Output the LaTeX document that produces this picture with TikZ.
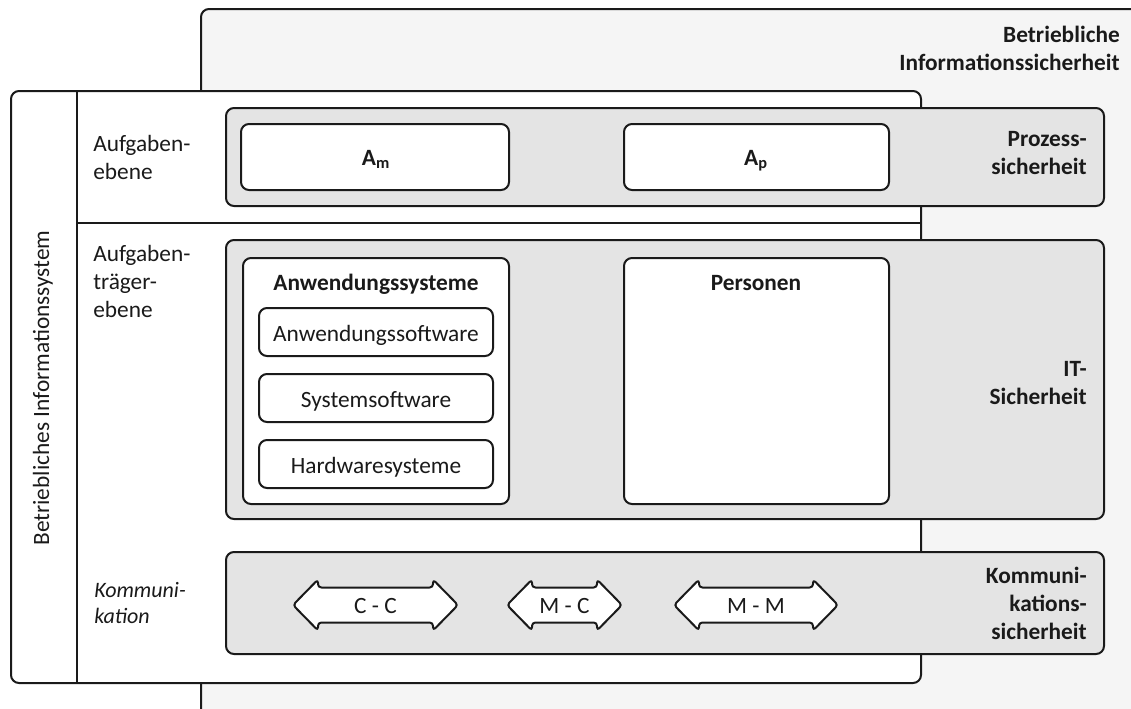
\documentclass[tikz,border=0pt]{standalone}
\usepackage{fontspec}
\setmainfont{Carlito}
\usetikzlibrary{fit}
\definecolor{linec}{HTML}{1A1A1A}
\definecolor{bgc}{HTML}{F5F5F5}
\definecolor{grayc}{HTML}{E4E4E4}
\newcommand\dblarr[4]{%
  \draw[arrowshape] ({#2-#3},605) -- ({#2-#3+25},579.5) -- ({#2-#3+25},587.5) -- ({#2+#3-25},587.5) -- ({#2+#3-25},579.5) -- ({#2+#3},605) -- ({#2+#3-25},630.5) -- ({#2+#3-25},622.5) -- ({#2-#3+25},622.5) -- ({#2-#3+25},630.5) -- cycle;
  \node[txt, anchor=base] (#1) at (#2,613) {#4};}
\begin{document}
\begin{tikzpicture}[x=0.75pt,y=-0.75pt,
  box/.style={draw=linec, line width=1.5pt, rounded corners=6pt, inner sep=0pt},
  bgbox/.style={box, fill=bgc},
  whitebox/.style={box, fill=white},
  graybox/.style={box, fill=grayc},
  divline/.style={draw=linec, line width=1.5pt},
  arrowshape/.style={draw=linec, line width=1.5pt, fill=white, rounded corners=2.5pt, line join=round},
  txt/.style={inner sep=0pt, font=\fontsize{17.5}{21}\selectfont, text=linec},
  btxt/.style={txt, font=\fontsize{17.5}{21}\selectfont\bfseries},
  itxt/.style={inner sep=0pt, font=\fontsize{16.5}{19.5}\selectfont\itshape, text=linec}
]
\useasboundingbox (0,0) rectangle (1131,708);
\clip (0,0) rectangle (1131,708);
\fill[white] (0,0) rectangle (1131,708);
% outer frame
\node[bgbox, fit={(201,9) (1170,750)}] (bis) {};
\node[btxt, align=right, anchor=north east] (bislbl) at (1120,26) {Betriebliche\\Informationssicherheit};
% information system
\node[whitebox, fit={(11,91) (921,683)}] (sys) {};
\coordinate (d1) at (77,91);
\coordinate (d2) at (77,683);
\coordinate (h1) at (77,223);
\coordinate (h2) at (921,223);
\draw[divline] (d1) -- (d2);
\draw[divline] (h1) -- (h2);
\node[txt, rotate=90] (syslbl) at (43,388) {Betriebliches Informationssystem};
\node[txt, align=left, anchor=north west] (l1) at (93,135) {Aufgaben-\\ebene};
\node[txt, align=left, anchor=north west] (l2) at (93,245) {Aufgaben-\\träger-\\ebene};
\node[itxt, align=left, anchor=north west] (l3) at (94,582) {Kommuni-\\kation};
% Prozesssicherheit
\node[graybox, fit={(226,108) (1104,206)}] (proz) {};
\node[whitebox, fit={(241,124) (509,190)}] (am) {};
\node[whitebox, fit={(624,124) (889,190)}] (ap) {};
\node[btxt, anchor=base] (amt) at (376,165) {A\textsubscript{m}};
\node[btxt, anchor=base] (apt) at (756,165) {A\textsubscript{p}};
\node[btxt, align=right, anchor=north east] (prozlbl) at (1087,131) {Prozess-\\sicherheit};
% IT-Sicherheit
\node[graybox, fit={(226,240) (1104,519)}] (it) {};
\node[whitebox, fit={(243,258) (509,504)}] (anw) {};
\node[whitebox, fit={(624,258) (889,504)}] (pers) {};
\node[btxt, anchor=base] (anwt) at (376,290) {Anwendungssysteme};
\node[btxt, anchor=base] (perst) at (756,290) {Personen};
\node[whitebox, fit={(259,308) (493,356)}] (s1) {};
\node[whitebox, fit={(259,374) (493,422)}] (s2) {};
\node[whitebox, fit={(259,440) (493,488)}] (s3) {};
\node[txt, anchor=base] (s1t) at (376,341) {Anwendungssoftware};
\node[txt, anchor=base] (s2t) at (376,407) {Systemsoftware};
\node[txt, anchor=base] (s3t) at (376,473) {Hardwaresysteme};
\node[btxt, align=right, anchor=north east] (itlbl) at (1087,361) {IT-\\Sicherheit};
% Kommunikationssicherheit
\node[graybox, fit={(226,552) (1104,654)}] (kom) {};
\node[btxt, align=right, anchor=north east] (komlbl) at (1087,567) {Kommuni-\\kations-\\sicherheit};
\dblarr{cc}{375.5}{82.5}{C - C}
\dblarr{mc}{564.5}{57.5}{M - C}
\dblarr{mm}{756}{82}{M - M}
\end{tikzpicture}
\end{document}
